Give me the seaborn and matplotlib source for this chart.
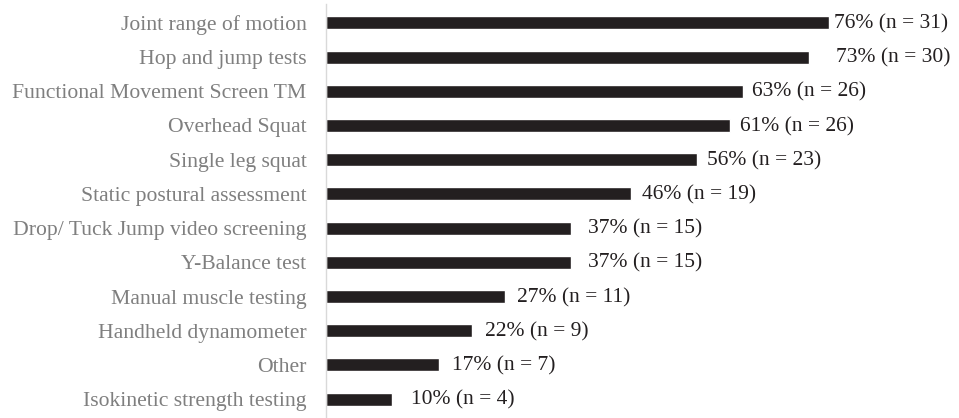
import matplotlib
matplotlib.use("Agg")
import matplotlib.pyplot as plt
import seaborn as sns
import pandas as pd

categories = [
    "Joint range of motion",
    "Hop and jump tests",
    "Functional Movement Screen TM",
    "Overhead Squat",
    "Single leg squat",
    "Static postural assessment",
    "Drop/ Tuck Jump video screening",
    "Y-Balance test",
    "Manual muscle testing",
    "Handheld dynamometer",
    "Other",
    "Isokinetic strength testing",
]
percent = [76, 73, 63, 61, 56, 46, 37, 37, 27, 22, 17, 10]
counts = [31, 30, 26, 26, 23, 19, 15, 15, 11, 9, 7, 4]

# gap (pixels) between each bar end and its value label
label_gap = [5, 27, 9, 10, 10, 11, 17, 17, 12, 13, 13, 19]

df = pd.DataFrame({"category": categories, "percent": percent, "n": counts})

sns.set_theme(style="white")
plt.rcParams["font.family"] = ["Liberation Serif", "DejaVu Serif"]

fig = plt.figure(figsize=(9.59, 4.18), dpi=100)
ax = fig.add_axes([326 / 959, 0.0, (959 - 326) / 959, 1 - 4 / 418])

sns.barplot(data=df, x="percent", y="category", orient="h",
            color="#231f20", saturation=1, width=0.38, ax=ax)

for i, (p, n, g) in enumerate(zip(percent, counts, label_gap)):
    ax.annotate(f"{p}% (n = {n})", xy=(p, i), xytext=(g, -1),
                textcoords="offset pixels",
                va="center", ha="left", fontsize=15.5, color="#231f20")

ax.set_xlim(0, 633 / 6.62)
ax.set_ylim(len(categories) - 0.45, -0.55)
ax.set_xlabel("")
ax.set_ylabel("")
ax.set_xticks([])
ax.tick_params(axis="y", length=0, pad=14, labelsize=15.6, labelcolor="#7f7f7f")
for s in ["top", "right", "bottom"]:
    ax.spines[s].set_visible(False)
ax.spines["left"].set_color("#d9d9d9")
ax.spines["left"].set_linewidth(1.0)

fig.savefig("out.png", dpi=100)
